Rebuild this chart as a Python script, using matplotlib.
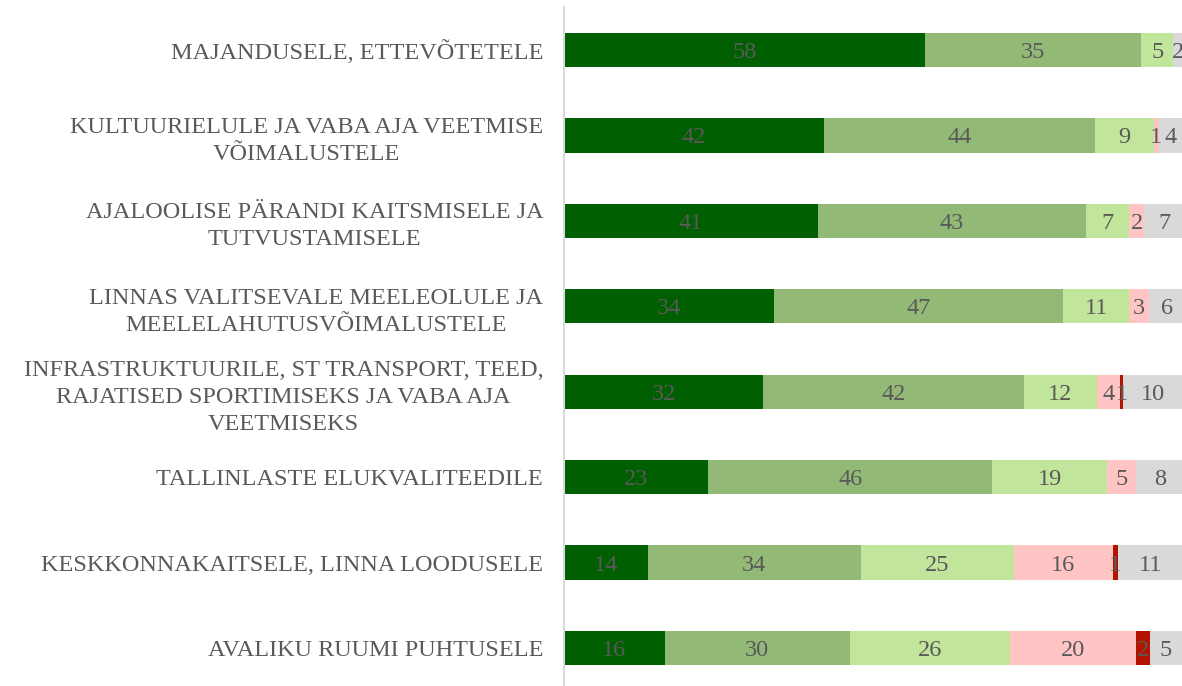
import numpy as np
import matplotlib.pyplot as plt

categories = [
    "MAJANDUSELE, ETTEVÕTETELE",
    "KULTUURIELULE JA VABA AJA VEETMISE\nVÕIMALUSTELE",
    "AJALOOLISE PÄRANDI KAITSMISELE JA\nTUTVUSTAMISELE",
    "LINNAS VALITSEVALE MEELEOLULE JA\nMEELELAHUTUSVÕIMALUSTELE",
    "INFRASTRUKTUURILE, ST TRANSPORT, TEED,\nRAJATISED SPORTIMISEKS JA VABA AJA\nVEETMISEKS",
    "TALLINLASTE ELUKVALITEEDILE",
    "KESKKONNAKAITSELE, LINNA LOODUSELE",
    "AVALIKU RUUMI PUHTUSELE",
]

# shares per answer group (percent)
very_positive = [58.4, 42.1, 41.1, 34.0, 32.2, 23.3, 13.6, 16.3]
positive = [35.0, 43.9, 43.4, 46.8, 42.2, 46.0, 34.4, 29.9]
neutral = [5.2, 9.4, 7.0, 10.7, 11.8, 18.6, 24.8, 25.9]
negative = [0.0, 0.8, 2.3, 3.1, 3.7, 4.7, 16.0, 20.4]
very_negative = [0.0, 0.0, 0.0, 0.0, 0.6, 0.0, 0.8, 2.3]
dont_know = [1.6, 3.9, 6.6, 5.9, 9.6, 7.6, 10.6, 5.2]

series = [very_positive, positive, neutral, negative, very_negative, dont_know]
colors = ["#005f00", "#93b976", "#c1e59a", "#ffc5c5", "#b31400", "#d9d9d9"]

plt.rcParams['font.family'] = ['Liberation Serif', 'DejaVu Serif']

fig = plt.figure(figsize=(11.82, 6.86), dpi=100)
ax = fig.add_axes([0.4772, -0.0069, 0.5228, 0.9963])

y = np.arange(len(categories))
left = np.zeros(len(categories))
for vals, col in zip(series, colors):
    vals = np.array(vals)
    ax.barh(y, vals, left=left, height=0.4, color=col, edgecolor='none')
    for yi, l, v in zip(y, left, vals):
        if v > 0:
            ax.text(l + v / 2, yi, f"{v:.0f}", ha='center', va='center_baseline',
                    fontsize=17.5, color='#595959')
    left += vals

ax.set_xlim(0, 100)
ax.set_ylim(len(categories) - 0.5, -0.5)
ax.set_yticks(y)
ax.set_yticklabels(categories, fontsize=17.5, color='#595959',
                   multialignment='center', linespacing=1.38)
ax.tick_params(axis='y', length=0, pad=15)
ax.set_xticks([])
for s in ['top', 'right', 'bottom']:
    ax.spines[s].set_visible(False)
ax.spines['left'].set_color('#d9d9d9')
ax.spines['left'].set_linewidth(1.5)

fig.savefig("out.png", dpi=100)
